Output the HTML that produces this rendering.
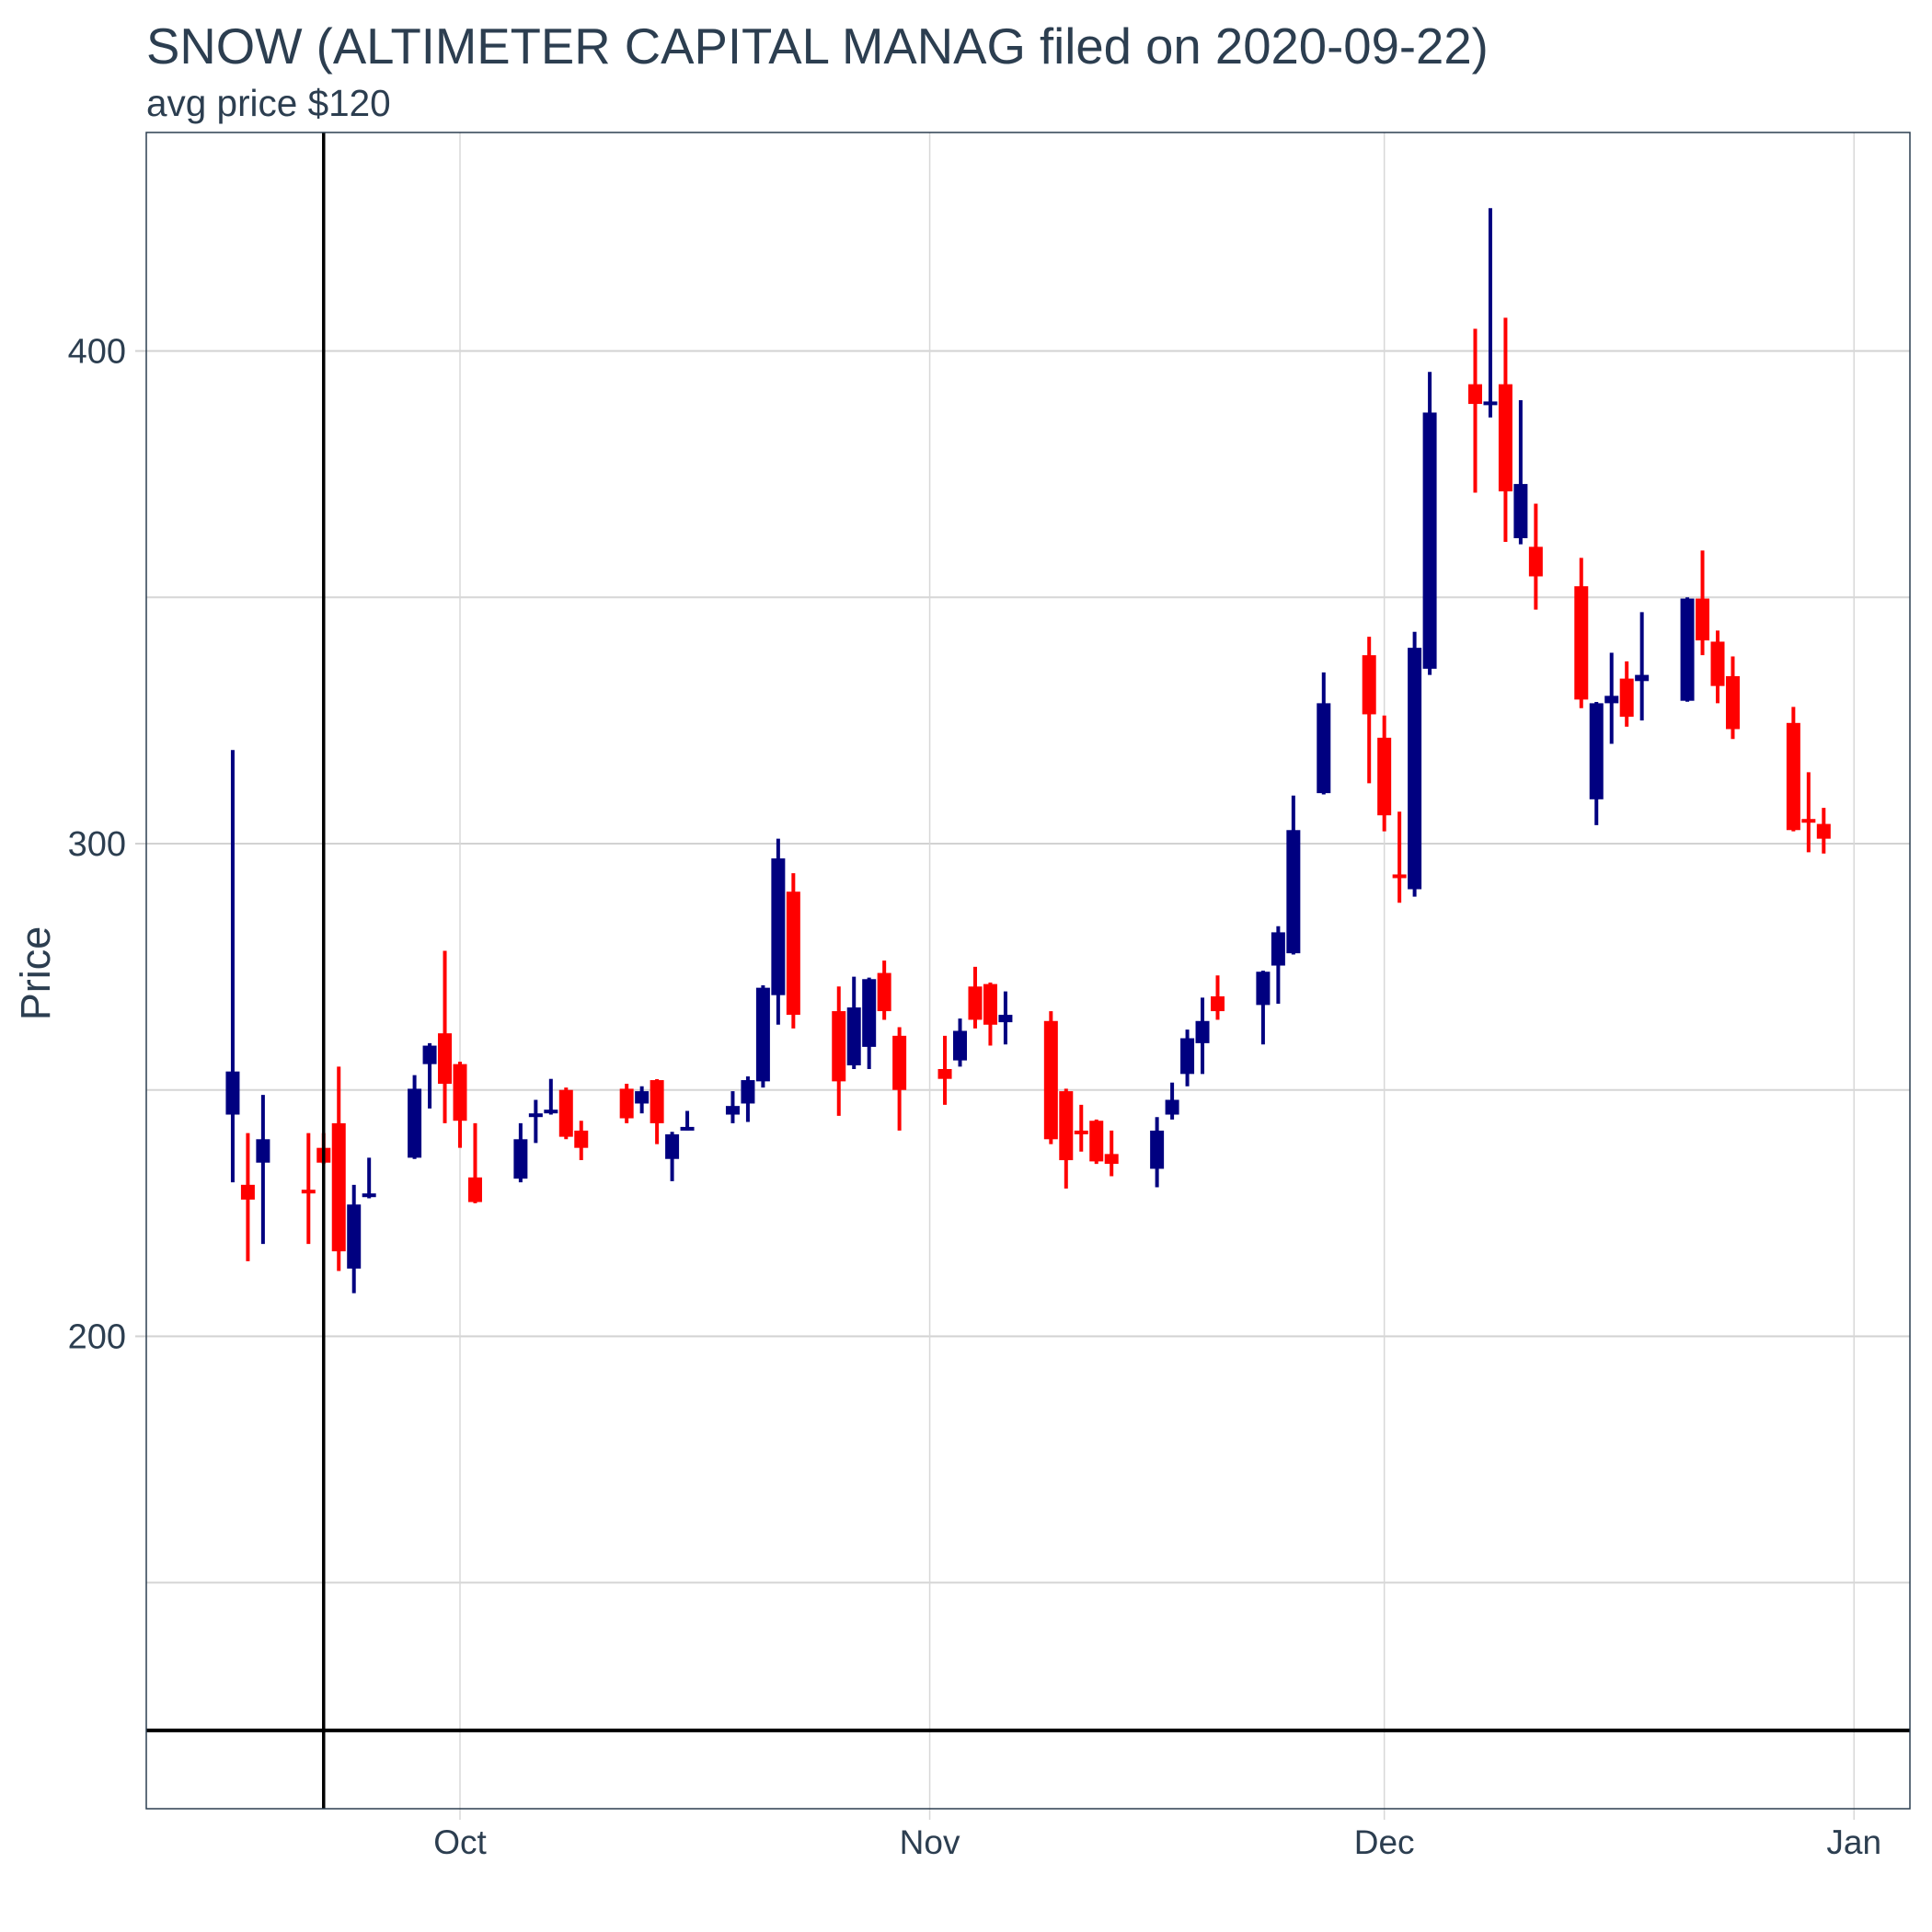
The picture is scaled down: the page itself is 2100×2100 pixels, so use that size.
<!DOCTYPE html>
<html><head><meta charset="utf-8"><style>
html,body{margin:0;padding:0;background:#fff;}
svg{display:block;font-family:"Liberation Sans",sans-serif;}
</style></head><body>
<svg id="chart" width="2100" height="2100" viewBox="0 0 2100 2100">
<text x="159" y="69" font-size="54.5" fill="#2c3e50">SNOW (ALTIMETER CAPITAL MANAG filed on 2020-09-22)</text>
<text x="159" y="126" font-size="40.5" fill="#2c3e50">avg price $120</text>
<text transform="translate(54,1058) rotate(-90)" text-anchor="middle" font-size="45" fill="#2c3e50">Price</text>
<g id="grid"></g>
<g id="marks"></g>
<g id="refs"></g>
<rect x="159" y="144" width="1917" height="1822" fill="none" stroke="#2c3e50" stroke-width="1.5"/>
</svg>
<script>
const dates = ["2020-09-16","2020-09-17","2020-09-18","2020-09-21","2020-09-22","2020-09-23","2020-09-24","2020-09-25","2020-09-28","2020-09-29","2020-09-30","2020-10-01","2020-10-02","2020-10-05","2020-10-06","2020-10-07","2020-10-08","2020-10-09","2020-10-12","2020-10-13","2020-10-14","2020-10-15","2020-10-16","2020-10-19","2020-10-20","2020-10-21","2020-10-22","2020-10-23","2020-10-26","2020-10-27","2020-10-28","2020-10-29","2020-10-30","2020-11-02","2020-11-03","2020-11-04","2020-11-05","2020-11-06","2020-11-09","2020-11-10","2020-11-11","2020-11-12","2020-11-13","2020-11-16","2020-11-17","2020-11-18","2020-11-19","2020-11-20","2020-11-23","2020-11-24","2020-11-25","2020-11-27","2020-11-30","2020-12-01","2020-12-02","2020-12-03","2020-12-04","2020-12-07","2020-12-08","2020-12-09","2020-12-10","2020-12-11","2020-12-14","2020-12-15","2020-12-16","2020-12-17","2020-12-18","2020-12-21","2020-12-22","2020-12-23","2020-12-24","2020-12-28","2020-12-29","2020-12-30"];
const opens = [245,230.75,235.25,229.75,238.25,243.25,213.75,228.25,236.25,255.25,261.5,255.25,232.25,232,244.5,245.5,250,241.75,250.25,247.25,252,236,242,245,247.25,251.75,269.25,290.25,266,255,258.75,273.75,261,254.25,256,271,271.5,263.75,264,249.75,241.75,243.75,237,234,245,253.25,259.5,269,267.25,275.25,277.75,310.25,338.25,321.5,293.75,290.75,335.5,393.25,389.25,393.25,362,360.25,352.25,309,328.5,333.5,333,329,349.75,341,334,324.5,305,304];
const highs = [319,241.25,249,241.25,241.25,254.75,230.75,236.25,253,259.5,278.25,255.75,243.25,243.25,248,252.25,250.5,243.75,251.25,250.75,252.2,241.5,245.75,249.75,252.75,271.25,301,294,271,273,272.8,276.25,262.75,261,264.5,275,271.8,270,266,250.25,247,244,241.75,244.5,251.5,262.25,268.75,273.25,274.2,283.25,309.75,334.75,342,326,306.5,343,395.75,404.5,429,406.75,390,369,358,328.75,338.75,337,347,350,359.5,343.25,338,327.75,314.5,307.25];
const lows = [231.25,215.25,218.75,218.75,235,213.25,208.75,228,236,246.25,243.25,238.25,227,231.25,239.25,245,240,235.75,243.25,245.25,239,231.5,241.8,243.25,243.5,250.5,263.25,262.5,244.75,254.25,254.25,264.25,241.75,247,254.75,262.5,259,259.25,239,230,237.5,235,232.5,230.25,244,250.75,253.25,264.25,259.25,267.5,277.5,310,312.25,302.5,288,289.25,334.25,371.25,386.5,361.25,360.75,347.5,327.5,303.75,320.25,323.75,325,328.8,338.25,328.5,321.25,302.5,298.25,298];
const closes = [253.75,227.75,240,229,235.25,217.25,226.75,229,250.25,259,251.25,243.75,227.25,240,245.25,246,240.5,238.25,244.25,249.75,243.25,241,242.5,246.75,252,270.75,297,265.25,251.75,266.75,272.5,266,250,252.25,262,264.25,263.25,265.25,240,235.75,241.25,235.5,235,241.75,248,260.5,264,266,274,282,302.75,328.5,326.25,305.75,293,339.75,387.5,389.25,389.75,371.5,373,354.25,329.25,328.5,330,325.75,334.25,349.75,341.25,332,323.25,302.75,304.25,301];
const yTicks = [200,300,400];
const yMinor = [150,250,350];
const xTickLabels = ["Oct","Nov","Dec","Jan"];
const xTickDates = ["2020-10-01","2020-11-01","2020-12-01","2021-01-01"];
const filingDate = "2020-09-22";
const avgPrice = 120;

const NS = "http://www.w3.org/2000/svg";
const X0 = 159, X1 = 2076, Y0 = 144, Y1 = 1966;
const DAY = 16.47, OCT1 = 500;
const t0 = Date.UTC(2020,9,1);
function xScale(d){ const p=d.split("-").map(Number); const t=Date.UTC(p[0],p[1]-1,p[2]); return OCT1 + (t-t0)/86400000*DAY; }
function yScale(v){ return 917 - (v-300)*5.355; }
function mk(tag, attrs, parent){ const e=document.createElementNS(NS,tag); for(const k in attrs) e.setAttribute(k,attrs[k]); parent.appendChild(e); return e; }

const grid = document.getElementById("grid");
yMinor.forEach(v=>{
  const l = mk("line",{x1:X0,x2:X1,y1:yScale(v),y2:yScale(v),stroke:"#d6d6d6","stroke-width":2},grid);
  
  
});
yTicks.forEach(v=>{
  const y=yScale(v);
  const l = mk("line",{x1:X0-12,x2:X1,y1:y,y2:y,stroke:"#d2d2d2","stroke-width":2},grid);
  
  
  const t = mk("text",{x:137,y:y+13,"text-anchor":"end","font-size":38,fill:"#2c3e50"},grid);
  t.textContent = v;
  
  
});
xTickDates.forEach((d,i)=>{
  const x=xScale(d);
  const l = mk("line",{x1:x,x2:x,y1:Y0,y2:Y1+12,stroke:"#d8d8d8","stroke-width":1.5},grid);
  
  
  const t = mk("text",{x:x,y:2015,"text-anchor":"middle","font-size":37,fill:"#2c3e50"},grid);
  t.textContent = xTickLabels[i];
  
  
});

const marks = document.getElementById("marks");
const BW = 15;
dates.forEach((d,i)=>{
  const x=xScale(d);
  const up = closes[i] >= opens[i];
  const col = up ? "#000080" : "#ff0000";
  const g = mk("g",{},marks);
  
  
  const w = mk("line",{x1:x,x2:x,y1:yScale(highs[i]),y2:yScale(lows[i]),stroke:col,"stroke-width":4},g);
  
  
  const top = yScale(Math.max(opens[i],closes[i])), bot = yScale(Math.min(opens[i],closes[i]));
  const r = mk("rect",{x:x-BW/2,y:top,width:BW,height:Math.max(bot-top,4),fill:col},g);
  
  
});

const refs = document.getElementById("refs");
const vx = xScale(filingDate);
const vl = mk("line",{x1:vx,x2:vx,y1:Y0,y2:Y1,stroke:"#000","stroke-width":3.5},refs);


const hy = yScale(avgPrice);
const hl = mk("line",{x1:X0,x2:X1,y1:hy,y2:hy,stroke:"#000","stroke-width":4},refs);


</script>
</body></html>
